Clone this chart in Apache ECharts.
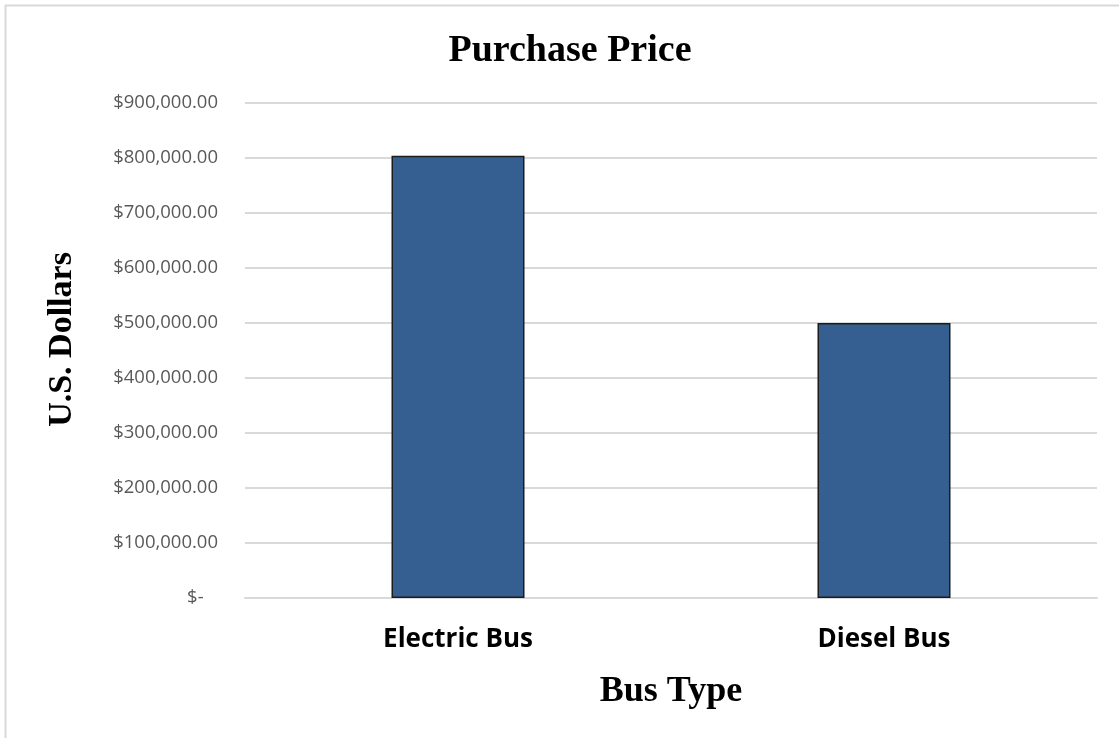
<!DOCTYPE html>
<html>
<head>
<meta charset="utf-8">
<title>Purchase Price</title>
<script src="https://cdn.jsdelivr.net/npm/echarts@6/dist/echarts.min.js"></script>
<style>
html, body { margin: 0; padding: 0; background: #fff; }
#main { width: 1119px; height: 738px; }
</style>
</head>
<body>
<div id="main"></div>
<script>
var busTypes = ['Electric Bus', 'Diesel Bus'];
var prices = [804000, 500000];
var yMax = 900000;
var yStep = 100000;

// 美元格式，0 显示为 "$-"
function moneyLabel(v) {
	if (v == 0) {
		return '$-   ';
	}
	return '$' + v.toLocaleString('en-US', { minimumFractionDigits: 2, maximumFractionDigits: 2 });
}

var chart = echarts.init(document.getElementById('main'));

var option = {
	backgroundColor: '#fff',
	animation: false,
	title: {
		text: 'Purchase Price',
		left: 565,
		top: 27,
		textAlign: 'center',
		textStyle: {
			fontFamily: 'Liberation Serif',
			fontSize: 38,
			fontWeight: 'bold',
			color: '#000'
		}
	},
	graphic: [{
		// 外框
		type: 'rect',
		shape: { x: 5.5, y: 5.5, width: 1200, height: 800 },
		style: { fill: 'none', stroke: '#d9d9d9', lineWidth: 2 },
		silent: true
	}],
	grid: {
		left: 245,
		right: 22,
		top: 103,
		bottom: 140
	},
	xAxis: {
		type: 'category',
		data: busTypes,
		name: 'Bus Type',
		nameLocation: 'middle',
		nameGap: 76,
		nameTextStyle: {
			fontFamily: 'Liberation Serif',
			fontSize: 36,
			fontWeight: 'bold',
			color: '#000'
		},
		axisLine: { lineStyle: { color: '#d9d9d9', width: 2 } },
		axisTick: { show: false },
		axisLabel: {
			margin: 29,
			fontFamily: 'Open Sans',
			fontSize: 26,
			fontWeight: 'bold',
			color: '#000'
		}
	},
	yAxis: {
		type: 'value',
		min: 0,
		max: yMax,
		interval: yStep,
		name: 'U.S. Dollars',
		nameLocation: 'middle',
		nameGap: 166,
		nameRotate: 90,
		nameTextStyle: {
			fontFamily: 'Liberation Serif',
			fontSize: 34,
			fontWeight: 'bold',
			color: '#000',
			padding: [0, 0, 0, 22]
		},
		axisLine: { show: false },
		axisTick: { show: false },
		splitLine: { lineStyle: { color: '#d9d9d9', width: 2 } },
		axisLabel: {
			margin: 27,
			fontFamily: 'Open Sans',
			fontSize: 18.5,
			color: '#595959',
			formatter: moneyLabel
		}
	},
	series: [{
		type: 'bar',
		data: prices,
		barWidth: 133,
		itemStyle: {
			color: '#365f91',
			borderColor: '#1c1c1c',
			borderWidth: 1.5
		}
	}]
};

chart.setOption(option);
window.addEventListener('resize', function () {
	chart.resize();
});
</script>
</body>
</html>
